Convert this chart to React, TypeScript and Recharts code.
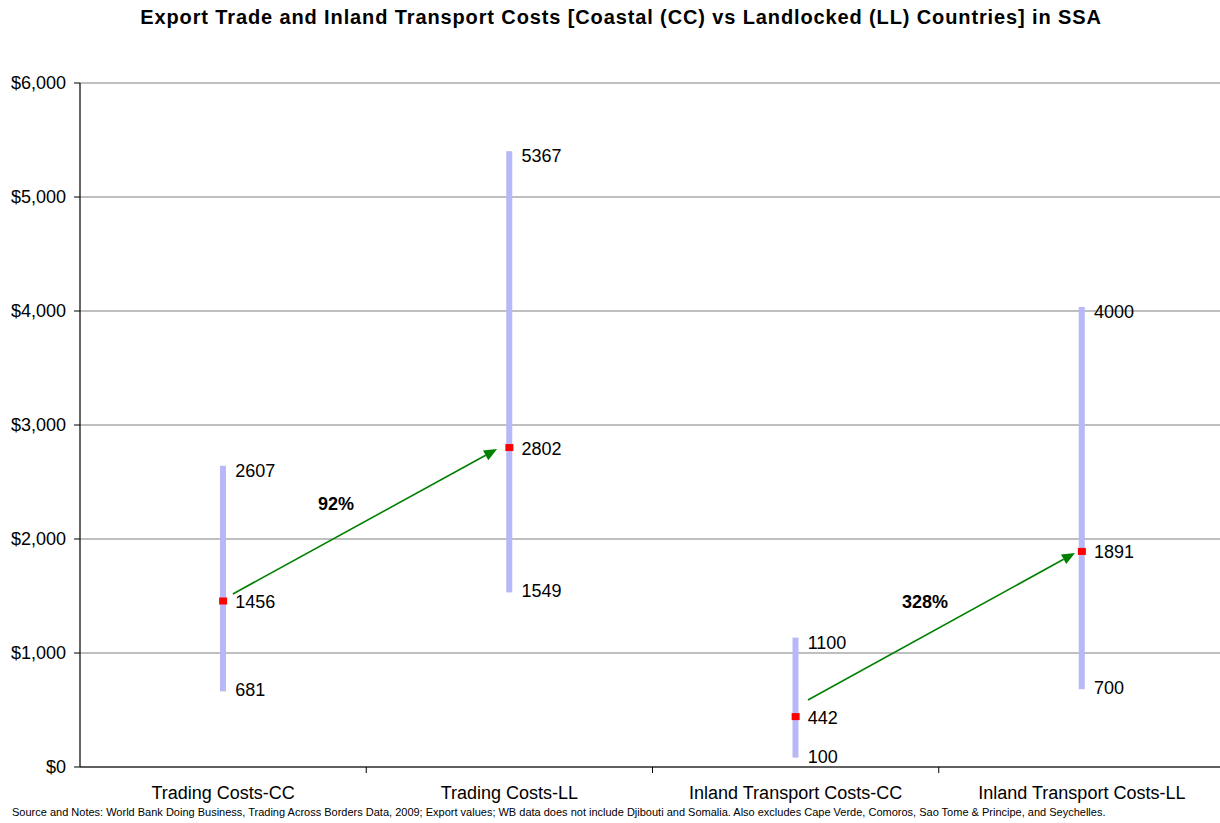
import React from "react";
import {
  ComposedChart,
  Bar,
  Scatter,
  XAxis,
  YAxis,
  CartesianGrid,
  ReferenceLine,
  ReferenceDot,
} from "recharts";

const categories = [
  "Trading Costs-CC",
  "Trading Costs-LL",
  "Inland Transport Costs-CC",
  "Inland Transport Costs-LL",
];
const highValues = [2607, 5367, 1100, 4000];
const medianValues = [1456, 2802, 442, 1891];
const lowValues = [681, 1549, 100, 700];
const yTicks = [0, 1000, 2000, 3000, 4000, 5000, 6000];

// Annotation arrows (x in category units: category i spans [i, i+1])
const arrowLabels = ["92%", "328%"];
const arrowFromX = [0.534, 2.543];
const arrowFromY = [1518, 588];
const arrowToX = [1.457, 3.476];
const arrowToY = [2789, 1877];
const arrowLabelX = [0.894, 2.952];
const arrowLabelY = [2307, 1447];

const FONT = "'Liberation Sans', Arial, Helvetica, sans-serif";
const CHART_W = 1225;
const CHART_H = 823;
const PLOT_LEFT = 80;
const PLOT_RIGHT = CHART_W;
const HALF_BAND = (PLOT_RIGHT - PLOT_LEFT) / categories.length / 2;

const data = categories.map((name, i) => ({
  x: i + 0.5,
  name,
  high: highValues[i],
  median: medianValues[i],
  low: lowValues[i],
  range: [lowValues[i], highValues[i]],
}));

const fmtDollar = (v: number) => "$" + v.toLocaleString("en-US");

const XTick = (props: any) => {
  const { x, y, payload } = props;
  const v = payload.value as number;
  const idx = Math.round(v);
  return (
    <g>
      {idx >= 1 && idx <= 3 ? (
        <line x1={x} y1={y} x2={x} y2={y + 6} stroke="#000" strokeWidth={1} />
      ) : null}
      {idx < categories.length ? (
        <text
          x={x + HALF_BAND}
          y={y + 26}
          textAnchor="middle"
          dominantBaseline="central"
          fontSize={18}
          fontFamily={FONT}
          fill="#000"
        >
          {categories[idx]}
        </text>
      ) : null}
    </g>
  );
};

const RangeShape = (props: any) => {
  const { x, y, width, height } = props;
  return <rect x={x} y={y - 4} width={width} height={height + 6} fill="#b8b8f8" />;
};

const MedianShape = (props: any) => {
  const { cx, cy, payload } = props;
  return (
    <g>
      <rect x={cx - 4} y={cy - 3.5} width={8} height={7} fill="#ff0000" />
      <text
        x={cx + 12}
        y={cy + 1}
        dominantBaseline="central"
        fontSize={18}
        fontFamily={FONT}
        fill="#000"
      >
        {payload.median}
      </text>
    </g>
  );
};

const makeLabelShape = (key: "high" | "low") => (props: any) => {
  const { cx, cy, payload } = props;
  return (
    <text
      x={cx + 12}
      y={cy + 1}
      dominantBaseline="central"
      fontSize={18}
      fontFamily={FONT}
      fill="#000"
    >
      {payload[key]}
    </text>
  );
};

const ArrowShape = (props: any) => {
  const { x1, y1, x2, y2 } = props;
  const ang = Math.atan2(y2 - y1, x2 - x1);
  const len = 13;
  const w = 5.5;
  const bx = x2 - len * Math.cos(ang);
  const by = y2 - len * Math.sin(ang);
  const px = -Math.sin(ang) * w;
  const py = Math.cos(ang) * w;
  return (
    <g>
      <line x1={x1} y1={y1} x2={bx} y2={by} stroke="#008000" strokeWidth={1.6} />
      <polygon
        points={`${x2},${y2} ${bx + px},${by + py} ${bx - px},${by - py}`}
        fill="#008000"
      />
    </g>
  );
};

const PctShape = (label: string) => (props: any) => {
  const { cx, cy } = props;
  return (
    <text
      x={cx}
      y={cy}
      textAnchor="middle"
      dominantBaseline="central"
      fontSize={18}
      fontWeight="bold"
      fontFamily={FONT}
      fill="#000"
    >
      {label}
    </text>
  );
};

export default function App() {
  return (
    <div
      style={{
        position: "absolute",
        left: 0,
        top: 0,
        width: 1220,
        height: 823,
        overflow: "hidden",
        background: "#fff",
        fontFamily: FONT,
      }}
    >
      <div
        style={{
          position: "absolute",
          left: 0,
          top: 5,
          width: 1242,
          textAlign: "center",
          fontSize: 20,
          letterSpacing: "0.88px",
          fontWeight: "bold",
          lineHeight: "24px",
          color: "#000",
          whiteSpace: "nowrap",
        }}
      >
        Export Trade and Inland Transport Costs [Coastal (CC) vs Landlocked (LL) Countries] in SSA
      </div>
      <ComposedChart
        width={CHART_W}
        height={CHART_H}
        data={data}
        margin={{ top: 83, right: 0, bottom: 0, left: 0 }}
      >
        <CartesianGrid vertical={false} stroke="#808080" strokeWidth={1.2} />
        <XAxis
          dataKey="x"
          type="number"
          domain={[0, 4]}
          ticks={[0, 1, 2, 3, 4]}
          interval={0}
          height={56}
          tickLine={false}
          tickSize={0}
          tickMargin={0}
          axisLine={{ stroke: "#000", strokeWidth: 1.2 }}
          tick={<XTick />}
          allowDataOverflow
        />
        <YAxis
          type="number"
          domain={[0, 6000]}
          ticks={yTicks}
          width={80}
          tickSize={6}
          tickMargin={8}
          tickFormatter={fmtDollar}
          axisLine={{ stroke: "#000", strokeWidth: 1.2 }}
          tickLine={{ stroke: "#000" }}
          tick={{ fontSize: 18, fill: "#000", fontFamily: FONT }}
        />
        <Bar dataKey="range" barSize={6} shape={<RangeShape />} isAnimationActive={false} />
        <Scatter dataKey="high" shape={makeLabelShape("high")} isAnimationActive={false} />
        <Scatter dataKey="low" shape={makeLabelShape("low")} isAnimationActive={false} />
        <Scatter dataKey="median" shape={<MedianShape />} isAnimationActive={false} />
        {arrowLabels.map((lab, i) => (
          <ReferenceLine
            key={"a" + i}
            segment={[
              { x: arrowFromX[i], y: arrowFromY[i] },
              { x: arrowToX[i], y: arrowToY[i] },
            ]}
            shape={ArrowShape}
            ifOverflow="visible"
          />
        ))}
        {arrowLabels.map((lab, i) => (
          <ReferenceDot
            key={"l" + i}
            x={arrowLabelX[i]}
            y={arrowLabelY[i]}
            r={0}
            shape={PctShape(lab)}
            ifOverflow="visible"
          />
        ))}
      </ComposedChart>
      <div
        style={{
          position: "absolute",
          left: 12,
          top: 805,
          fontSize: 11,
          lineHeight: "14px",
          color: "#000",
          whiteSpace: "nowrap",
        }}
      >
        Source and Notes: World Bank Doing Business, Trading Across Borders Data, 2009; Export values; WB data does not include Djibouti and Somalia. Also excludes Cape Verde, Comoros, Sao Tome &amp; Principe, and Seychelles.
      </div>
    </div>
  );
}
